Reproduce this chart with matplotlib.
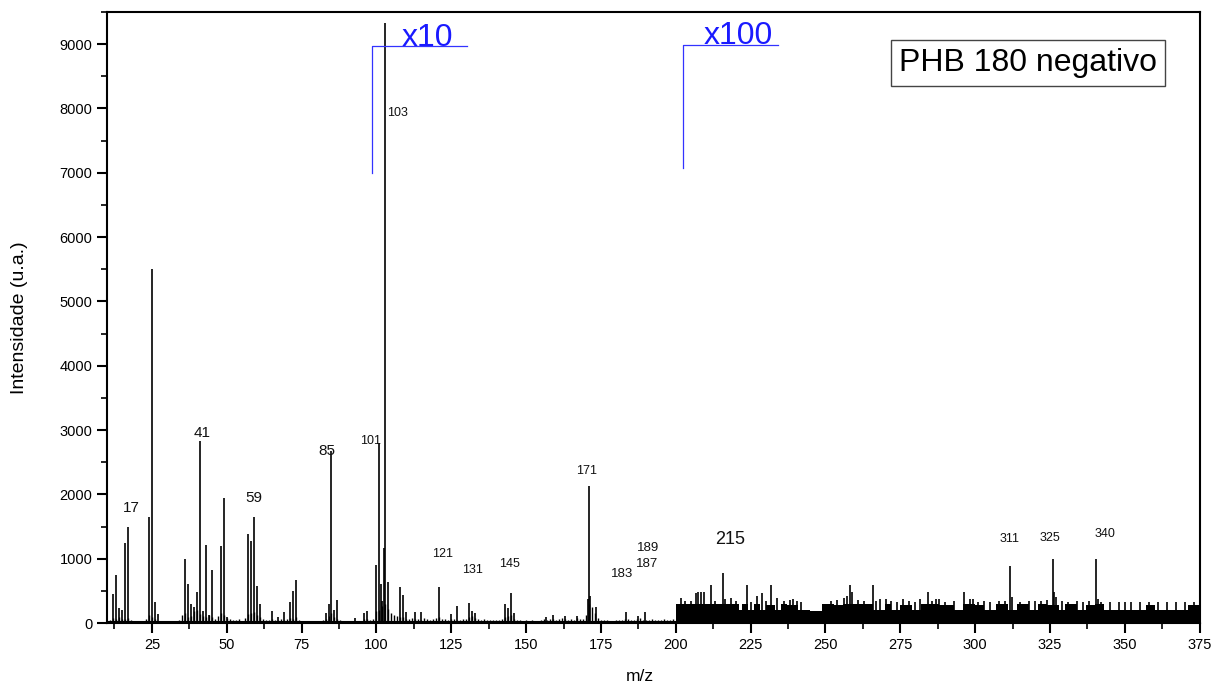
import numpy as np
import matplotlib.pyplot as plt
from matplotlib.ticker import MultipleLocator

plt.rcParams['font.family'] = ['Liberation Sans', 'DejaVu Sans']

# main peaks (m/z, intensity)
peak_mz = [12, 13, 14, 15, 16, 17, 24, 25, 26, 27,
           36, 37, 38, 39, 40, 41, 42, 43, 44, 45, 48, 49, 50,
           57, 58, 59, 60, 61, 65, 67, 69, 71, 72, 73,
           83, 84, 85, 86, 87, 93, 96, 97, 100, 101, 101.4, 102, 102.6, 103, 104,
           108, 109, 110, 113, 115,
           121, 125, 127, 131, 132, 133, 143, 144, 145, 146, 156.5, 159, 163, 167,
           170.7, 171, 171.4, 173.5, 183.5, 187.3, 189.7]
peak_int = [450, 750, 240, 210, 1250, 1500, 1650, 5500, 320, 140,
            1000, 610, 300, 250, 480, 2830, 180, 1220, 120, 820, 1200, 1940, 100,
            1380, 1280, 1650, 570, 290, 180, 100, 170, 330, 500, 670,
            150, 290, 2680, 200, 360, 80, 150, 180, 900, 2800, 600, 350, 1170, 9330, 640,
            560, 430, 170, 165, 170,
            560, 135, 265, 316, 180, 160, 300, 230, 470, 160, 100, 130, 110, 110,
            380, 2130, 420, 250, 175, 110, 175]

# low baseline noise, m/z 10..199
noise_int = [30, 50, 80, 60, 90, 70, 60, 80, 40, 30,
             20, 15, 25, 60, 120, 90, 70, 30, 15, 10,
             10, 20, 15, 25, 40, 120, 150, 90, 110, 180,
             200, 140, 110, 100, 130, 90, 60, 110, 160, 130,
             80, 60, 40, 50, 60, 30, 80, 140, 160, 170,
             120, 90, 60, 50, 40, 60, 50, 40, 60, 50,
             60, 80, 70, 100, 40, 30, 25, 20, 30, 25,
             20, 30, 40, 60, 110, 150, 90, 70, 40, 30,
             20, 15, 20, 30, 25, 20, 60, 70, 50, 70,
             180, 200, 260, 300, 220, 150, 120, 110, 100, 90,
             70, 60, 80, 60, 70, 50, 80, 60, 50, 70,
             80, 90, 70, 60, 50, 60, 70, 50, 40, 60,
             70, 90, 110, 80, 70, 50, 60, 40, 50, 40,
             50, 40, 60, 90, 110, 130, 70, 50, 40, 30,
             40, 30, 40, 30, 30, 40, 60, 50, 70, 60,
             50, 70, 80, 60, 50, 60, 50, 80, 60, 70,
             120, 300, 250, 150, 80, 50, 40, 40, 30, 30,
             40, 40, 50, 70, 60, 50, 40, 60, 80, 50,
             40, 50, 60, 50, 40, 50, 60, 40, 50, 60]
noise_mz = np.arange(10, 10 + len(noise_int))

# x100 region: dense noise band envelope
block_edges = [200, 221, 222, 224, 226, 228, 230, 233, 235, 237,
               241, 245, 249, 253, 256, 262, 266, 270, 272, 275,
               279, 282, 285, 288, 293, 296, 300, 303, 307, 311,
               314, 318, 321, 324, 328, 330, 334, 337, 340, 343,
               346, 350, 353, 357, 360, 364, 368, 371, 375]
block_levels = [300, 200, 290, 200, 290, 210, 280, 200, 290, 280,
                200, 190, 290, 280, 300, 290, 200, 290, 200, 280,
                200, 290, 290, 280, 200, 290, 280, 200, 290, 210,
                290, 200, 290, 280, 200, 290, 200, 280, 290, 200,
                200, 210, 200, 280, 200, 210, 200, 280]

block_mz = [201.6, 203, 205, 206.9, 207.4, 208.5, 209.4, 211.7, 213, 215.8, 216.5, 218.4, 220,
            223.7, 225, 227.2, 228.9, 230, 231.9, 233.7, 236, 238, 239.3, 240.5, 242,
            252, 254, 256.1, 257.2, 258.1, 259, 261, 263, 265.9, 267, 268.1, 270.3, 272, 274,
            275.9, 278, 280, 281.5, 284.3, 285.5, 287, 288.1, 290, 293, 296.3, 298.2, 299.3,
            301, 303, 305, 308, 310, 311.8, 312.3, 315, 318, 320, 322, 324, 326, 326.5, 327,
            329, 331, 334, 336, 338, 340.3, 341, 342, 345, 348, 350, 352, 355, 358, 361, 364,
            367, 370, 373]
block_int = [384, 350, 340, 472, 487, 487, 487, 586, 350, 783, 380, 390, 340,
             591, 330, 420, 470, 350, 591, 390, 340, 360, 380, 350, 330,
             340, 360, 390, 420, 591, 490, 360, 340, 591, 350, 380, 380, 340, 330,
             370, 340, 330, 380, 487, 350, 380, 380, 330, 340, 487, 380, 380,
             330, 340, 330, 340, 350, 886, 400, 330, 340, 350, 340, 360, 990, 490, 400,
             340, 330, 340, 330, 350, 990, 380, 330, 330, 320, 330, 320, 330, 320, 330, 320,
             330, 320, 330]

# peak labels
lab_text = ['17', '41', '59', '85', '101', '103', '121', '131', '145', '171',
            '183', '187', '189', '215', '311', '325', '340']
lab_x = [18, 41.7, 59, 83.5, 98, 107, 122, 132, 144.6, 170.3,
         182, 190.3, 190.6, 218, 311.6, 325, 343.3]
lab_y = [1680, 2850, 1840, 2570, 2730, 7830, 980, 730, 830, 2270,
         670, 830, 1080, 1170, 1220, 1230, 1295]
lab_size = [11, 11, 11, 11, 9, 9, 9, 9, 9, 9,
            9.5, 9.5, 9.5, 13, 9, 9, 9]

fig = plt.figure(figsize=(12.24, 6.86), dpi=100)
ax = fig.add_axes([0.0874, 0.0918, 0.8927, 0.8907])

ax.fill_between(block_edges, block_levels + [block_levels[-1]], step='post',
                color='black', lw=0)
ax.vlines(noise_mz, 0, noise_int, color='black', lw=1.0)
ax.vlines(peak_mz, 0, peak_int, color='black', lw=1.2)
ax.vlines(block_mz, 0, block_int, color='black', lw=1.2)
ax.plot([10, 200], [15, 15], color='black', lw=1.5)

for t, x, y, s in zip(lab_text, lab_x, lab_y, lab_size):
    ax.text(x, y, t, fontsize=s, ha='center', va='bottom', color='#111111')

# zoom factor brackets
ax.plot([98.5, 98.5, 130.2], [7000, 8970, 8970], color='#3333ff', lw=0.9)
ax.text(117, 8975, 'x10', fontsize=23, color='#1a1aff', ha='center', va='baseline')
ax.plot([202.4, 202.4, 234], [7070, 8990, 8990], color='#3333ff', lw=0.9)
ax.text(221, 8995, 'x100', fontsize=23, color='#1a1aff', ha='center', va='baseline')

ax.text(0.843, 0.917, 'PHB 180 negativo', transform=ax.transAxes, fontsize=23,
        ha='center', va='center',
        bbox=dict(boxstyle='square,pad=0.25', fc='white', ec='#444444', lw=1))

ax.set_xlim(10, 375)
ax.set_ylim(0, 9500)
ax.xaxis.set_major_locator(MultipleLocator(25))
ax.xaxis.set_minor_locator(MultipleLocator(12.5))
ax.yaxis.set_major_locator(MultipleLocator(1000))
ax.yaxis.set_minor_locator(MultipleLocator(500))
ax.set_xticks(np.arange(25, 376, 25))
ax.tick_params(which='major', direction='out', length=7, width=1.5, labelsize=10.5)
ax.tick_params(which='minor', direction='out', length=4, width=1.2)
for s in ax.spines.values():
    s.set_linewidth(1.5)

ax.set_xlabel('m/z', fontsize=12.5)
ax.xaxis.set_label_coords(0.488, -0.075)
ax.set_ylabel('Intensidade (u.a.)', fontsize=14)
ax.yaxis.set_label_coords(-0.072, 0.5)

plt.savefig('out.png', dpi=100)
